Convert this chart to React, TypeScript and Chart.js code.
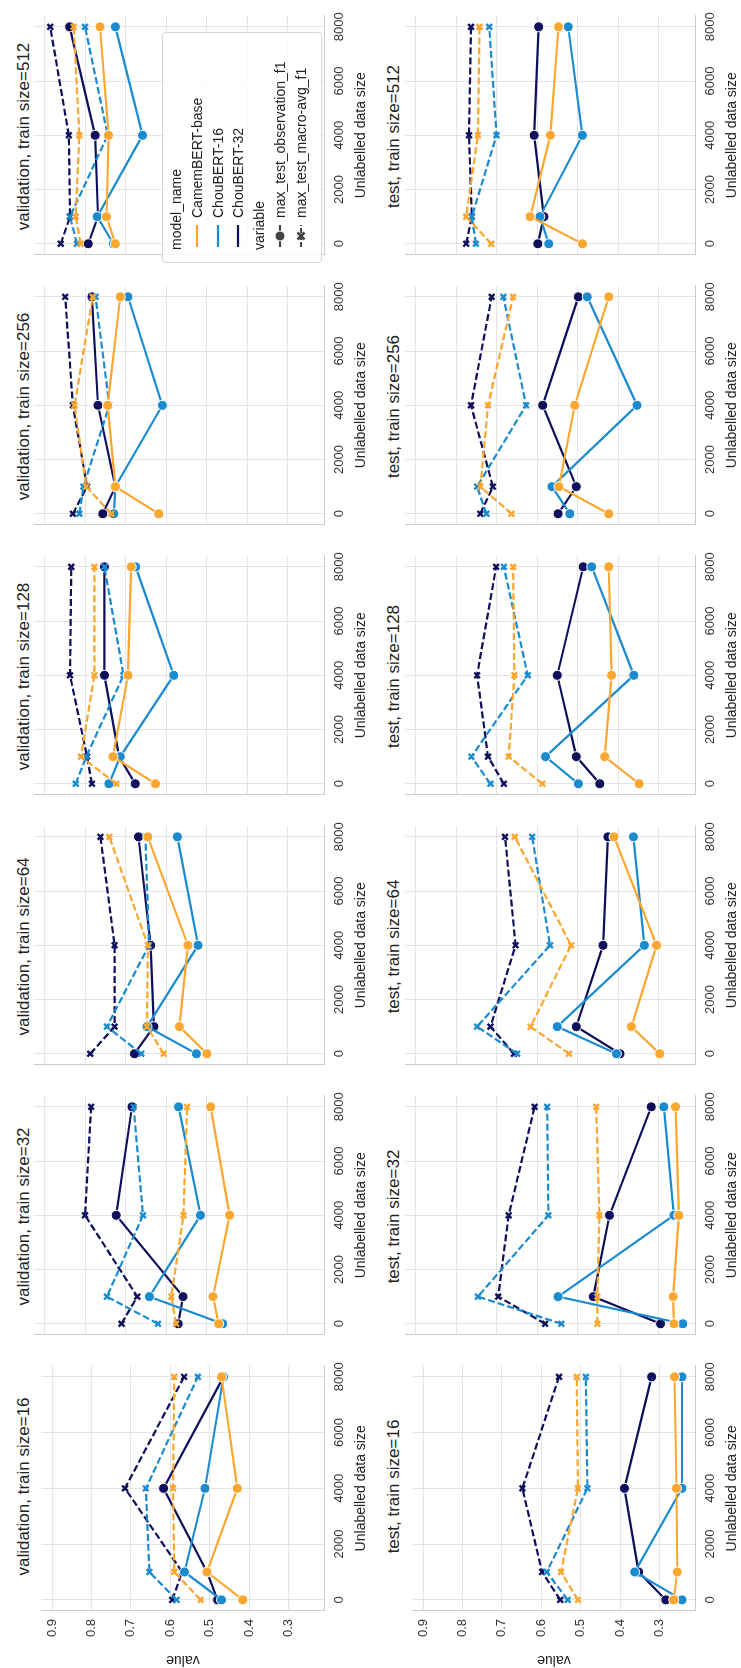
import React, { useEffect, useRef } from 'react';
import Chart from 'chart.js/auto';

// figure is drawn landscape, then turned 90deg counter-clockwise
const FIG_W = 1668;
const FIG_H = 741;

const TRAIN_SIZES = [16, 32, 64, 128, 256, 512];
const UNLABELLED = [0, 1000, 4000, 8000];
const MODELS = ['CamemBERT-base', 'ChouBERT-16', 'ChouBERT-32'];
const COLORS = ['#FBA62E', '#1B8BCF', '#0F0F5C'];
const Y_TICKS = [0.3, 0.4, 0.5, 0.6, 0.7, 0.8, 0.9];
const X_TICKS = [0, 2000, 4000, 6000, 8000];

// rows: train size 16..512, values at unlabelled 0, 1000, 4000, 8000
const VAL_OBS_CAMEMBERT = [
  [0.416, 0.507, 0.43, 0.47], [0.47, 0.484, 0.443, 0.49], [0.499, 0.567, 0.546, 0.645],
  [0.626, 0.731, 0.694, 0.686], [0.618, 0.725, 0.744, 0.713], [0.725, 0.747, 0.742, 0.763],
];
const VAL_OBS_CHOU16 = [
  [0.47, 0.564, 0.512, 0.465], [0.46, 0.641, 0.515, 0.569], [0.525, 0.647, 0.521, 0.572],
  [0.741, 0.713, 0.581, 0.675], [0.729, 0.725, 0.609, 0.694], [0.73, 0.77, 0.658, 0.725],
];
const VAL_OBS_CHOU32 = [
  [0.48, 0.507, 0.617, 0.465], [0.57, 0.558, 0.723, 0.684], [0.678, 0.63, 0.638, 0.668],
  [0.676, 0.716, 0.752, 0.752], [0.756, 0.725, 0.768, 0.783], [0.792, 0.768, 0.775, 0.838],
];
const VAL_MACRO_CAMEMBERT = [
  [0.523, 0.59, 0.593, 0.59], [0.575, 0.587, 0.557, 0.548], [0.606, 0.647, 0.645, 0.74],
  [0.723, 0.81, 0.777, 0.777], [0.735, 0.797, 0.826, 0.781], [0.811, 0.823, 0.814, 0.828],
];
const VAL_MACRO_CHOU16 = [
  [0.584, 0.653, 0.662, 0.53], [0.62, 0.746, 0.657, 0.68], [0.661, 0.746, 0.642, 0.651],
  [0.823, 0.797, 0.705, 0.752], [0.814, 0.804, 0.74, 0.774], [0.82, 0.837, 0.744, 0.8],
];
const VAL_MACRO_CHOU32 = [
  [0.595, 0.57, 0.715, 0.565], [0.71, 0.671, 0.8, 0.785], [0.787, 0.727, 0.727, 0.762],
  [0.783, 0.795, 0.837, 0.834], [0.83, 0.795, 0.83, 0.849], [0.86, 0.837, 0.84, 0.886],
];
const TEST_OBS_CAMEMBERT = [
  [0.264, 0.255, 0.257, 0.262], [0.262, 0.264, 0.25, 0.258], [0.297, 0.367, 0.305, 0.41],
  [0.348, 0.433, 0.416, 0.423], [0.423, 0.546, 0.507, 0.423], [0.488, 0.617, 0.567, 0.547],
];
const TEST_OBS_CHOU16 = [
  [0.243, 0.363, 0.243, 0.243], [0.24, 0.548, 0.262, 0.287], [0.404, 0.55, 0.335, 0.362],
  [0.498, 0.579, 0.361, 0.465], [0.519, 0.563, 0.353, 0.476], [0.571, 0.593, 0.488, 0.523],
];
const TEST_OBS_CHOU32 = [
  [0.284, 0.353, 0.389, 0.32], [0.295, 0.461, 0.421, 0.318], [0.395, 0.503, 0.437, 0.425],
  [0.445, 0.503, 0.55, 0.486], [0.548, 0.503, 0.586, 0.498], [0.598, 0.583, 0.607, 0.596],
];
const TEST_MACRO_CAMEMBERT = [
  [0.507, 0.55, 0.507, 0.51], [0.451, 0.451, 0.446, 0.454], [0.521, 0.616, 0.516, 0.655],
  [0.587, 0.67, 0.656, 0.659], [0.663, 0.74, 0.721, 0.659], [0.713, 0.775, 0.746, 0.742],
];
const TEST_MACRO_CHOU16 = [
  [0.533, 0.586, 0.483, 0.487], [0.54, 0.746, 0.572, 0.575], [0.649, 0.748, 0.568, 0.612],
  [0.715, 0.762, 0.623, 0.682], [0.725, 0.748, 0.627, 0.683], [0.751, 0.761, 0.7, 0.718],
];
const TEST_MACRO_CHOU32 = [
  [0.552, 0.598, 0.648, 0.555], [0.58, 0.696, 0.67, 0.606], [0.657, 0.715, 0.653, 0.679],
  [0.682, 0.721, 0.748, 0.701], [0.74, 0.709, 0.763, 0.712], [0.775, 0.761, 0.768, 0.763],
];

const SPLITS = [
  { name: 'validation', obs: [VAL_OBS_CAMEMBERT, VAL_OBS_CHOU16, VAL_OBS_CHOU32], macro: [VAL_MACRO_CAMEMBERT, VAL_MACRO_CHOU16, VAL_MACRO_CHOU32] },
  { name: 'test', obs: [TEST_OBS_CAMEMBERT, TEST_OBS_CHOU16, TEST_OBS_CHOU32], macro: [TEST_MACRO_CAMEMBERT, TEST_MACRO_CHOU16, TEST_MACRO_CHOU32] },
];

const FONT = "'Liberation Sans', Arial, sans-serif";
const PLOT_W = 249;
const PLOT_H = 290;
const PLOT_TOPS = [34, 405];
const Y_AXIS_W = 57;
const PAD = 8;

const plotLeft = (c: number) => 57 + 270 * c;

const Panel: React.FC<{ row: number; col: number }> = ({ row, col }) => {
  const canvasRef = useRef<HTMLCanvasElement | null>(null);
  const yW = col === 0 ? Y_AXIS_W : 0;
  const width = yW + PLOT_W + PAD;
  const height = PAD + PLOT_H + 46;

  useEffect(() => {
    if (!canvasRef.current) return;
    const split = SPLITS[row];
    const datasets: any[] = [];
    MODELS.forEach((m, i) => {
      datasets.push({
        label: m + ' obs',
        data: UNLABELLED.map((x, k) => ({ x, y: split.obs[i][col][k] })),
        borderColor: COLORS[i],
        backgroundColor: COLORS[i],
        borderWidth: 2.2,
        pointStyle: 'circle',
        pointRadius: 5,
        pointBorderColor: '#ffffff',
        pointBorderWidth: 1,
        pointBackgroundColor: COLORS[i],
      });
      datasets.push({
        label: m + ' macro',
        data: UNLABELLED.map((x, k) => ({ x, y: split.macro[i][col][k] })),
        borderColor: COLORS[i],
        backgroundColor: COLORS[i],
        borderWidth: 2.2,
        borderDash: [7, 3],
        pointStyle: 'crossRot',
        pointRadius: 4,
        pointBorderColor: COLORS[i],
        pointBorderWidth: 2.4,
      });
    });

    const chart = new Chart(canvasRef.current, {
      type: 'line',
      data: { datasets },
      options: {
        responsive: false,
        animation: false,
        devicePixelRatio: 1,
        layout: { padding: { top: PAD, right: PAD, left: 0, bottom: 0 } },
        plugins: { legend: { display: false }, tooltip: { enabled: false }, title: { display: false } },
        scales: {
          x: {
            type: 'linear',
            min: -400,
            max: 8400,
            afterBuildTicks: (s: any) => { s.ticks = X_TICKS.map((v) => ({ value: v })); },
            afterFit: (s: any) => { s.height = 46; },
            grid: { color: '#e4e4e4', drawTicks: false },
            border: { color: '#cccccc' },
            ticks: { font: { family: FONT, size: 13 }, color: '#333', padding: 8, maxRotation: 0, callback: (v: any) => String(v) },
            title: { display: true, text: 'Unlabelled data size', font: { family: FONT, size: 14 }, color: '#222', padding: { top: 3, bottom: 0 } },
          },
          y: {
            type: 'linear',
            min: 0.21,
            max: 0.926,
            afterBuildTicks: (s: any) => { s.ticks = Y_TICKS.map((v) => ({ value: v })); },
            afterFit: (s: any) => { s.width = yW; },
            grid: { color: '#e4e4e4', drawTicks: false },
            border: { color: '#cccccc' },
            ticks: { display: col === 0, font: { family: FONT, size: 13 }, color: '#333', padding: 8, callback: (v: any) => Number(v).toFixed(1) },
            title: { display: col === 0, text: 'value', font: { family: FONT, size: 14 }, color: '#222', padding: { top: 0, bottom: 4 } },
          },
        },
      },
    });
    return () => chart.destroy();
  }, [row, col, yW]);

  return (
    <canvas
      ref={canvasRef}
      width={width}
      height={height}
      style={{ position: 'absolute', left: plotLeft(col) - yW, top: PLOT_TOPS[row] - PAD, width, height }}
    />
  );
};

const Handle: React.FC<{ color: string; dashed?: boolean; marker?: 'o' | 'x' }> = ({ color, dashed, marker }) => (
  <svg width={24} height={14} style={{ position: 'absolute', left: 14, top: -7 }}>
    <line x1={1} y1={7} x2={23} y2={7} stroke={color} strokeWidth={2.2} strokeDasharray={dashed ? '5 2' : undefined} />
    {marker === 'o' && <circle cx={12} cy={7} r={5} fill={color} stroke="#fff" strokeWidth={1} />}
    {marker === 'x' && (
      <g stroke={color} strokeWidth={2.6}>
        <line x1={8.5} y1={3.5} x2={15.5} y2={10.5} />
        <line x1={15.5} y1={3.5} x2={8.5} y2={10.5} />
      </g>
    )}
  </svg>
);

const Legend: React.FC = () => {
  const rows: { text: string; handle?: React.ReactNode }[] = [
    { text: 'model_name' },
    ...MODELS.map((m, i) => ({ text: m, handle: <Handle color={COLORS[i]} /> })),
    { text: 'variable' },
    { text: 'max_test_observation_f1', handle: <Handle color="#444" marker="o" /> },
    { text: 'max_test_macro-avg_f1', handle: <Handle color="#444" dashed marker="x" /> },
  ];
  return (
    <div
      style={{
        position: 'absolute', left: 1405, top: 162, width: 231, height: 160,
        border: '1px solid #d6d6d6', borderRadius: 4, background: 'rgba(255,255,255,0.8)',
        boxSizing: 'border-box', fontFamily: FONT, fontSize: 14, color: '#222',
      }}
    >
      {rows.map((r, i) => (
        <div key={r.text} style={{ position: 'absolute', left: 0, top: 13 + i * 20.8, width: '100%' }}>
          {r.handle}
          <span style={{ position: 'absolute', left: r.handle ? 44 : 12, top: -9, whiteSpace: 'nowrap', lineHeight: '18px' }}>{r.text}</span>
        </div>
      ))}
    </div>
  );
};

export default function App() {
  return (
    <div
      style={{
        position: 'absolute', left: 0, top: 0, width: FIG_W, height: FIG_H, background: '#fff',
        transformOrigin: '0 0', transform: `translateY(${FIG_W}px) rotate(-90deg)`,
      }}
    >
      {SPLITS.map((s, r) =>
        TRAIN_SIZES.map((t, c) => (
          <React.Fragment key={`${r}-${c}`}>
            <div
              style={{
                position: 'absolute', left: plotLeft(c), width: PLOT_W, top: r === 0 ? 14 : 384,
                textAlign: 'center', fontFamily: FONT, fontSize: 17, color: '#222', whiteSpace: 'nowrap',
              }}
            >
              {`${s.name}, train size=${t}`}
            </div>
            <Panel row={r} col={c} />
          </React.Fragment>
        ))
      )}
      <Legend />
    </div>
  );
}
